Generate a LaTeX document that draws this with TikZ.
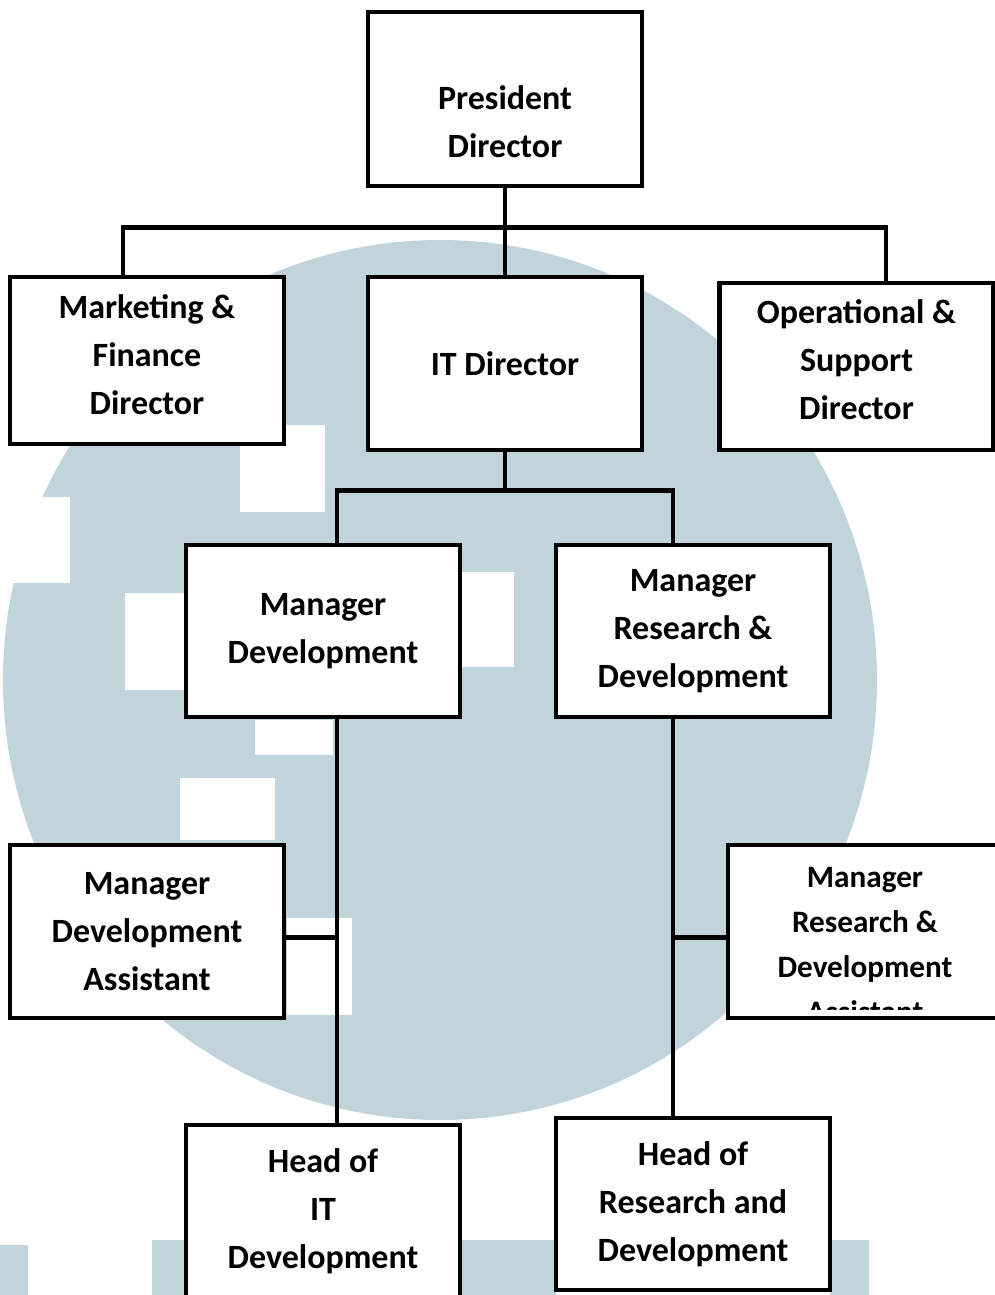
\documentclass[tikz,border=0pt]{standalone}
\usepackage{fontspec}
\setmainfont{Carlito}
\usepackage{tikz}
\usetikzlibrary{positioning}
\definecolor{logoblue}{RGB}{193,212,219}

\begin{document}
\begin{tikzpicture}[x=0.5pt, y=-0.5pt,
        box/.style={draw, line width=2.4pt, fill=white, minimum width=137pt, minimum height=86pt,
            inner sep=0pt, align=center, font=\bfseries\fontsize{17}{24}\selectfont},
        link/.style={line width=2.3pt}]
        \useasboundingbox (0,0) rectangle (995,1295);

        % faded logo behind the chart
        \fill[logoblue] (440,680) ellipse [x radius=218.5pt, y radius=220pt];
        \fill[white] (240,425) rectangle (325,512);
        \fill[white] (0,497) rectangle (70,583);
        \fill[white] (125,593) rectangle (200,690);
        \fill[white] (450,572) rectangle (514,667);
        \fill[white] (255,720) rectangle (333,755);
        \fill[white] (180,778) rectangle (275,840);
        \fill[white] (287,918) rectangle (352,1015);
        \fill[logoblue] (0,1245) rectangle (28,1295);
        \fill[logoblue] (152,1240) rectangle (188,1295);
        \fill[logoblue] (462,1240) rectangle (556,1295);
        \fill[logoblue] (830,1240) rectangle (869,1295);

        \node[box, minimum height=87pt] (pres) at (505,99) {\vphantom{P}\\President\\Director};
        \node[box, minimum height=83.5pt, text depth=6pt] (mkt) at (147,360.5) {Marketing \&\\Finance\\Director};
        \node[box, minimum height=86.5pt] (itd) at (505,363.5) {IT Director};
        \node[box, minimum height=83.5pt, text depth=7pt] (ops) at (856.5,366.5) {Operational \&\\Support\\Director};
        \node[box] (mdev) at (323,631) {Manager\\Development};
        \node[box] (mrd) at (693,631) {Manager\\Research \&\\Development};
        \node[box, minimum height=86.5pt] (mda) at (147,931.5) {Manager\\Development\\Assistant};
        \node[box, minimum height=86.5pt, path picture={
                \clip ([yshift=4.5pt]path picture bounding box.south west) rectangle (path picture bounding box.north east);
                \node[align=center, inner sep=0pt, font=\bfseries\fontsize{15.6}{22.5}\selectfont]
                    at ([yshift=-6.5pt]path picture bounding box.center)
                    {Manager\\Research \&\\Development\\Assistant};
            }] (mrda) at (865,931.5) {};
        \node[box] (hitd) at (323,1211) {Head of\\IT\\Development};
        \node[box] (hrd) at (693,1204) {Head of\\Research and\\Development};

        % directors
        \draw[link] (pres.south) -- (itd.north);
        \draw[link] ([xshift=-12pt]mkt.north) -- ++(0,-47) -| ([xshift=14.75pt]ops.north);
        % managers
        \draw[link] ([xshift=7pt]mdev.north) -- ++(0,-52) coordinate (mbus) -| ([xshift=-10pt]mrd.north);
        \draw[link] (itd.south) -- (itd.south |- mbus);
        % heads
        \draw[link] ([xshift=7pt]mdev.south) -- coordinate[pos=0.54] (devline) ([xshift=7pt]hitd.north);
        \draw[link] ([xshift=-10pt]mrd.south) -- coordinate[pos=0.55] (rdline) ([xshift=-10pt]hrd.north);
        % assistants
        \draw[link] ([yshift=-3pt]mda.east) -- ([yshift=-3pt]mda.east -| devline);
        \draw[link] ([yshift=-3pt]mrda.west) -- ([yshift=-3pt]mrda.west -| rdline);
    \end{tikzpicture}
\end{document}
